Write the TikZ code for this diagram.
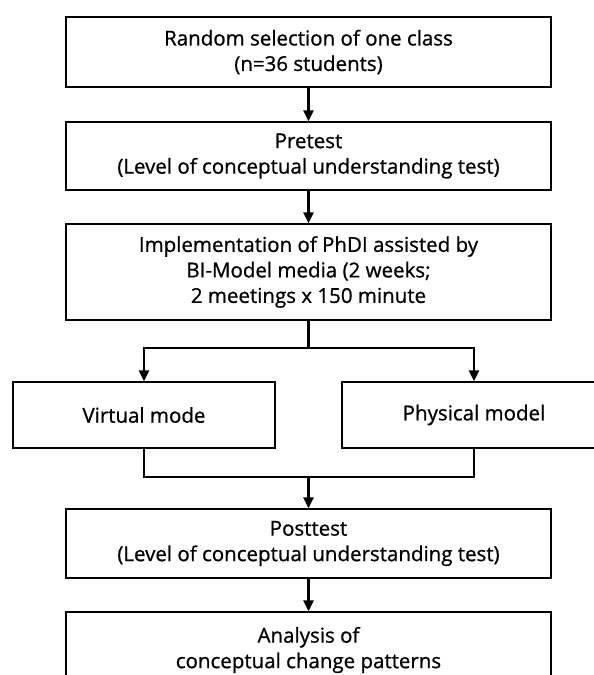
\documentclass[tikz,border=0pt]{standalone}
\usepackage{fontspec}
\setmainfont{Open Sans}[FakeBold=0.8]
\usetikzlibrary{arrows.meta}
\tikzset{
  box/.style={draw, line width=2.2pt, rectangle, align=center, inner sep=0pt,
    font=\fontsize{20.5}{25.5}\selectfont},
  conn/.style={line width=2.2pt},
  arr/.style={line width=2.2pt, -{Triangle[length=11pt,width=10pt]}, shorten >=-0.5pt}
}
\begin{document}
\begin{tikzpicture}[x=1pt,y=-1pt]
\clip (0,0) rectangle (594,675);
\fill[white] (0,0) rectangle (594,675);
\node[box, minimum width=485pt, minimum height=70pt] (b1) at (308.5,52)
  {Random selection of one class\\(n=36 students)};
\node[box, minimum width=485pt, minimum height=68pt] (b2) at (308.5,156)
  {Pretest\\(Level of conceptual understanding test)};
\node[box, minimum width=485pt, minimum height=96pt] (b3) at (308.5,272)
  {Implementation of PhDI assisted by\\BI-Model media (2 weeks;\\2 meetings x 150 minute};
\node[box, minimum width=262pt, minimum height=66pt] (virt) at (144,415)
  {Virtual mode};
\node[box, minimum width=264pt, minimum height=66pt] (phys) at (474,415)
  {Physical model};
\node[box, minimum width=485pt, minimum height=69pt] (post) at (308.5,543.5)
  {Posttest\\(Level of conceptual understanding test)};
\node[box, minimum width=485pt, minimum height=76pt] (ana) at (308.5,650)
  {Analysis of\\conceptual change patterns};
\coordinate (split) at (308.5,348);
\coordinate (join) at (308.5,477);
\draw[arr] (b1) -- (b2);
\draw[arr] (b2) -- (b3);
\draw[conn] (b3.south) -- (split);
\draw[arr] (split) -| (virt.north);
\draw[arr] (split) -| (phys.north);
\draw[conn] (virt.south) |- (join) -| (phys.south);
\draw[arr] (join) -- (post.north);
\draw[arr] (post) -- (ana);
\end{tikzpicture}
\end{document}
